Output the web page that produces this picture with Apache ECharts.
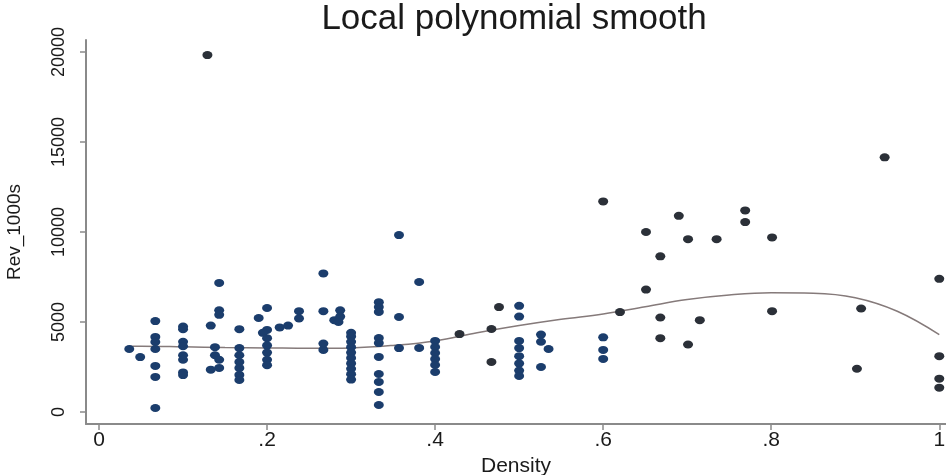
<!DOCTYPE html>
<html><head><meta charset="utf-8">
<script src="https://cdn.jsdelivr.net/npm/echarts@6/dist/echarts.min.js"></script>
<style>html,body{margin:0;padding:0;background:#fff}#c{width:946px;height:475px}</style>
</head><body><div id="c"></div>
<script>
const titleText = 'Local polynomial smooth';
const xName = 'Density';
const yName = 'Rev_1000s';
const xTicks = [0, 0.2, 0.4, 0.6, 0.8, 1];
const xTickLabels = ['0', '.2', '.4', '.6', '.8', '1'];
const yTicks = [0, 5000, 10000, 15000, 20000];
const yTickLabels = ['0', '5000', '10000', '15000', '20000'];

const bluePoints = [
  [0.036,3500],[0.049,3050],
  [0.067,5050],[0.067,4170],[0.067,3890],[0.067,3500],[0.067,2560],[0.067,1950],[0.067,220],
  [0.1,4750],[0.1,4600],[0.1,3900],[0.1,3650],[0.1,3150],[0.1,2900],[0.1,2200],[0.1,2050],
  [0.133,4800],[0.143,7170],[0.143,5650],[0.143,5400],[0.138,3600],[0.138,3150],[0.143,2900],[0.143,2450],[0.133,2350],
  [0.167,4600],[0.167,3550],[0.167,3150],[0.167,2780],[0.167,2440],[0.167,2060],[0.167,1780],
  [0.2,5780],[0.19,5220],[0.2,4560],[0.195,4400],[0.2,4100],[0.2,3700],[0.2,3300],[0.2,2900],[0.2,2600],
  [0.215,4700],[0.225,4800],[0.238,5600],[0.238,5200],
  [0.267,7700],[0.267,5600],[0.267,3800],[0.267,3450],[0.28,5100],[0.287,5650],[0.287,5300],[0.285,5000],
  [0.3,4400],[0.3,4200],[0.3,3900],[0.3,3600],[0.3,3300],[0.3,3000],[0.3,2700],[0.3,2400],[0.3,2100],[0.3,1800],
  [0.333,6100],[0.333,5830],[0.333,5560],[0.333,4110],[0.333,3830],[0.333,3060],[0.333,2110],[0.333,1670],[0.333,1110],[0.333,390],
  [0.357,9830],[0.357,5280],[0.357,3550],
  [0.381,7220],[0.381,3560],
  [0.4,3950],[0.4,3610],[0.4,3280],[0.4,2940],[0.4,2610],[0.4,2220],
  [0.5,5900],[0.5,5300],[0.5,3950],[0.5,3550],[0.5,3100],[0.5,2700],[0.5,2300],[0.5,2000],
  [0.526,4300],[0.526,3900],[0.535,3500],[0.526,2500],
  [0.6,4150],[0.6,3450],[0.6,2950]
];
const darkPoints = [
  [0.129,19830],[0.429,4330],[0.467,4610],[0.467,2780],[0.476,5830],
  [0.6,11700],[0.62,5550],[0.651,10000],[0.651,6800],[0.668,8650],[0.668,5250],[0.668,4100],
  [0.69,10900],[0.701,9600],[0.701,3750],[0.715,5100],[0.735,9600],[0.769,11200],[0.769,10550],
  [0.801,9700],[0.801,5600],[0.902,2400],[0.907,5750],[0.935,14150],
  [1,7400],[1,3100],[1,1850],[1,1350]
];
const smoothX = [0.036,0.05,0.1,0.15,0.2,0.25,0.3,0.35,0.4,0.45,0.5,0.55,0.6,0.65,0.7,0.75,0.8,0.85,0.9,0.95,1.0];
const smoothY = [3650,3650,3620,3580,3560,3540,3560,3700,3950,4400,4800,5150,5450,5850,6250,6500,6620,6600,6350,5600,4300];

const FONT = '"Liberation Sans", Arial, Helvetica, sans-serif';
const chart = echarts.init(document.getElementById('c'), null, {renderer: 'canvas'});
const nearestLabel = (v, ticks, labels) => {
  let best = 0;
  for (let i = 1; i < ticks.length; i++) if (Math.abs(ticks[i] - v) < Math.abs(ticks[best] - v)) best = i;
  return labels[best];
};
chart.setOption({
  backgroundColor: '#fff',
  animation: false,
  title: {
    text: titleText, left: 509, top: -3, textAlign: 'center',
    textStyle: {fontFamily: FONT, fontSize: 35, fontWeight: 'normal', color: '#1a1a1a'}
  },
  grid: {left: 86, right: 0, top: 40, bottom: 51, containLabel: false, outerBoundsMode: 'none'},
  xAxis: {
    type: 'value', min: -0.0155, max: 1.008,
    name: xName, nameLocation: 'middle', nameGap: 29,
    nameTextStyle: {fontFamily: FONT, fontSize: 21, color: '#1a1a1a'},
    axisLine: {show: true, onZero: false, lineStyle: {color: '#8a8a8a', width: 2}},
    axisTick: {show: true, length: 6, customValues: xTicks, lineStyle: {color: '#8a8a8a', width: 1.5}},
    axisLabel: {customValues: xTicks, margin: 6, fontFamily: FONT, fontSize: 21, color: '#1a1a1a',
      formatter: v => nearestLabel(v, xTicks, xTickLabels)},
    splitLine: {show: false}
  },
  yAxis: {
    type: 'value', min: -667, max: 20667,
    name: yName, nameLocation: 'middle', nameGap: 62, nameRotate: 90,
    nameTextStyle: {fontFamily: FONT, fontSize: 19, color: '#1a1a1a'},
    axisLine: {show: true, onZero: false, lineStyle: {color: '#8a8a8a', width: 2}},
    axisTick: {show: true, length: 6, customValues: yTicks, lineStyle: {color: '#8a8a8a', width: 1.5}},
    axisLabel: {customValues: yTicks, rotate: 90, margin: 18, fontFamily: FONT, fontSize: 18, color: '#1a1a1a',
      formatter: v => nearestLabel(v, yTicks, yTickLabels)},
    splitLine: {show: false}
  },
  series: [
    {type: 'scatter', data: bluePoints, symbol: 'circle', symbolSize: [10, 8],
     itemStyle: {color: '#1b3d6c', opacity: 1}},
    {type: 'scatter', data: darkPoints, symbol: 'circle', symbolSize: [10, 8],
     itemStyle: {color: '#2b3038', opacity: 1}},
    {type: 'line', data: smoothX.map((x, i) => [x, smoothY[i]]), smooth: 0.4, showSymbol: false,
     lineStyle: {color: '#857a7a', width: 1.5}, z: 1}
  ]
});
</script></body></html>
